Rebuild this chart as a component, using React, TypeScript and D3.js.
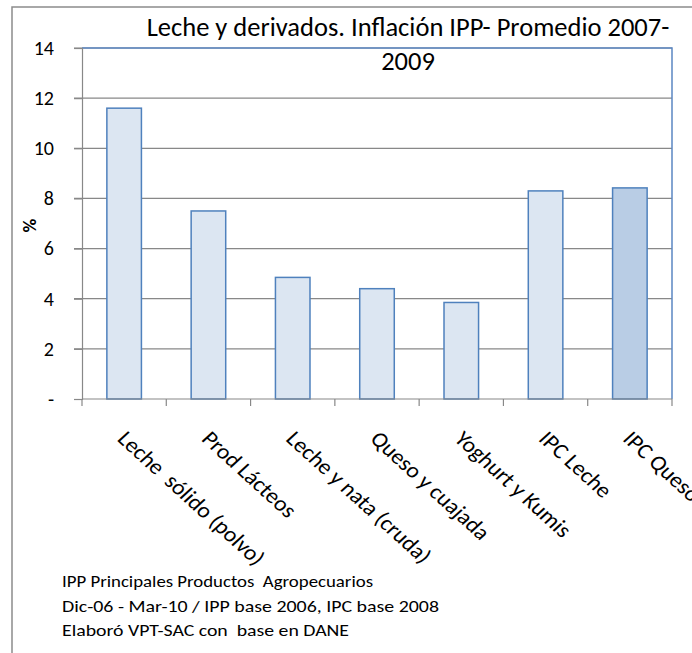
import React from "react";
import * as d3 from "d3";

const categories = [
  "Leche  sólido (polvo)",
  "Prod Lácteos",
  "Leche y nata (cruda)",
  "Queso y cuajada",
  "Yoghurt y Kumis",
  "IPC Leche",
  "IPC Queso",
];
const values = [11.6, 7.5, 4.85, 4.4, 3.85, 8.3, 8.42];
const yTicks = [0, 2, 4, 6, 8, 10, 12, 14];
const titleLines = ["Leche y derivados. Inflación IPP- Promedio 2007-", "2009"];
const footnotes = [
  "IPP Principales Productos  Agropecuarios",
  "Dic-06 - Mar-10 / IPP base 2006, IPC base 2008",
  "Elaboró VPT-SAC con  base en DANE",
];
const footnoteWidths = [311, 377, 287];

const FONT = "Carlito, 'Liberation Sans Narrow', 'Open Sans', sans-serif";

const App = () => {
  const ref = React.useRef<SVGSVGElement>(null);

  React.useEffect(() => {
    const svg = d3.select(ref.current);
    svg.selectAll("*").remove();

    const width = 692,
      height = 653;
    const plot = { left: 82, right: 672, top: 48, bottom: 399 };

    // outer frame (only top and left visible)
    svg.append("path")
      .attr("d", `M12,${height} L12,7 L${width},7`)
      .attr("fill", "none")
      .attr("stroke", "#8c8c8c")
      .attr("stroke-width", 1.5);

    const x = d3.scaleBand()
      .domain(categories)
      .range([plot.left, plot.right])
      .paddingInner(0.59)
      .paddingOuter(0.295);

    const y = d3.scaleLinear()
      .domain([0, 14])
      .range([plot.bottom, plot.top]);

    // gridlines
    svg.append("g")
      .selectAll("line")
      .data(yTicks.filter((t) => t > 0))
      .join("line")
      .attr("x1", plot.left - 8)
      .attr("x2", plot.right)
      .attr("y1", (d) => y(d))
      .attr("y2", (d) => y(d))
      .attr("stroke", "#888")
      .attr("stroke-width", 1.2);

    // plot border top/right (blue)
    svg.append("path")
      .attr("d", `M${plot.left},${plot.top} L${plot.right},${plot.top} L${plot.right},${plot.bottom}`)
      .attr("fill", "none")
      .attr("stroke", "#5b87c2")
      .attr("stroke-width", 1.5);

    // bars
    svg.append("g")
      .selectAll("rect")
      .data(values)
      .join("rect")
      .attr("x", (d, i) => x(categories[i]))
      .attr("y", (d) => y(d))
      .attr("width", x.bandwidth())
      .attr("height", (d) => y(0) - y(d))
      .attr("fill", (d, i) => (i === categories.length - 1 ? "#b9cde5" : "#dce6f2"))
      .attr("stroke", "#4f81bd")
      .attr("stroke-width", 1.5);

    // y axis
    const yAxis = svg.append("g")
      .attr("transform", `translate(${plot.left},0)`)
      .call(
        d3.axisLeft(y)
          .tickValues(yTicks)
          .tickSize(8)
          .tickPadding(20)
          .tickFormat((d) => (d === 0 ? "-" : String(d)))
      );
    yAxis.select(".domain").attr("stroke", "#888").attr("stroke-width", 1.2);
    yAxis.selectAll(".tick line").attr("stroke", "#888").attr("stroke-width", 1.2);
    yAxis.selectAll("text")
      .attr("font-family", FONT)
      .attr("font-size", 20)
      .attr("fill", "#000");

    // x axis with ticks on band boundaries
    const xAxisG = svg.append("g");
    xAxisG.append("line")
      .attr("x1", plot.left)
      .attr("x2", plot.right)
      .attr("y1", plot.bottom)
      .attr("y2", plot.bottom)
      .attr("stroke", "#888")
      .attr("stroke-width", 1.2);
    const step = x.step();
    const boundaries = d3.range(categories.length + 1).map(
      (i) => plot.left + i * step
    );
    xAxisG.selectAll("line.tk")
      .data(boundaries)
      .join("line")
      .attr("class", "tk")
      .attr("x1", (d) => d)
      .attr("x2", (d) => d)
      .attr("y1", plot.bottom)
      .attr("y2", plot.bottom + 7)
      .attr("stroke", "#888")
      .attr("stroke-width", 1.2);

    // category labels (slightly stretched horizontally like the source image)
    xAxisG.selectAll("text")
      .data(categories)
      .join("text")
      .attr("transform", (d) => `translate(${x(d) + x.bandwidth() / 2 - 8},${plot.bottom + 41}) scale(1.1,1) rotate(45)`)
      .attr("text-anchor", "start")
      .attr("font-family", FONT)
      .attr("font-size", 21.5)
      .attr("fill", "#000")
      .style("white-space", "pre")
      .text((d) => d);

    // y label
    svg.append("text")
      .attr("transform", `translate(36,${(plot.top + plot.bottom) / 2 + 2}) rotate(-90)`)
      .attr("text-anchor", "middle")
      .attr("font-family", FONT)
      .attr("font-size", 19)
      .attr("font-weight", "bold")
      .text("%");

    // title
    svg.append("g")
      .selectAll("text")
      .data(titleLines)
      .join("text")
      .attr("x", 408)
      .attr("y", (d, i) => 36 + i * 34)
      .attr("text-anchor", "middle")
      .attr("font-family", FONT)
      .attr("font-size", 26.5)
      .attr("fill", "#000")
      .text((d) => d);

    // footnotes
    svg.append("g")
      .selectAll("text")
      .data(footnotes)
      .join("text")
      .attr("x", 62)
      .attr("y", (d, i) => 587 + i * 24.5)
      .attr("font-family", FONT)
      .attr("font-size", 16)
      .attr("textLength", (d, i) => footnoteWidths[i])
      .attr("lengthAdjust", "spacingAndGlyphs")
      .attr("fill", "#000")
      .style("white-space", "pre")
      .text((d) => d);
  }, []);

  return (
    <svg
      ref={ref}
      width={692}
      height={653}
      style={{ position: "absolute", left: 0, top: 0, background: "#fff" }}
    ></svg>
  );
};

export default App;
